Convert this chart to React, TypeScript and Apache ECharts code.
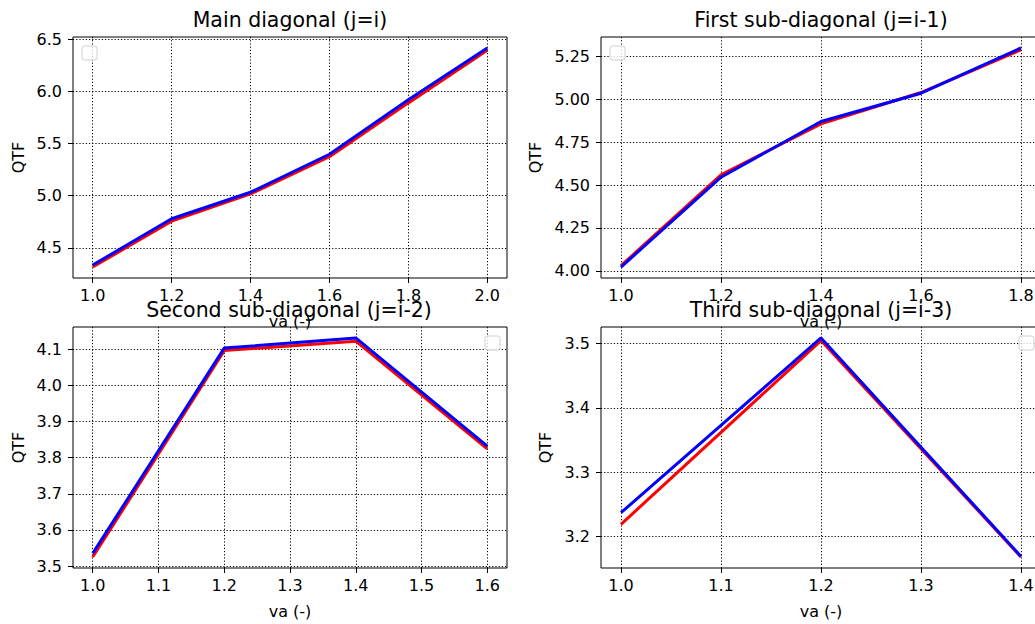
import React, { useEffect, useRef } from "react";
import * as echarts from "echarts";

// ---- data ----
const vaMain = [1.0, 1.2, 1.4, 1.6, 1.8, 2.0];
const mainRed = [4.315, 4.756, 5.017, 5.374, 5.89, 6.395];
const mainBlue = [4.334, 4.778, 5.033, 5.397, 5.92, 6.417];

const vaSub1 = [1.0, 1.2, 1.4, 1.6, 1.8];
const sub1Red = [4.03, 4.56, 4.857, 5.04, 5.289];
const sub1Blue = [4.022, 4.546, 4.871, 5.036, 5.3];

const vaSub2 = [1.0, 1.2, 1.4, 1.6];
const sub2Red = [3.525, 4.096, 4.122, 3.824];
const sub2Blue = [3.535, 4.103, 4.131, 3.832];

const vaSub3 = [1.0, 1.2, 1.4];
const sub3Red = [3.219, 3.505, 3.168];
const sub3Blue = [3.237, 3.509, 3.169];

// tick labels
const xTicksMain = [1.0, 1.2, 1.4, 1.6, 1.8, 2.0];
const yTicksMain = [4.5, 5.0, 5.5, 6.0, 6.5];
const xTicksSub1 = [1.0, 1.2, 1.4, 1.6, 1.8];
const yTicksSub1 = [4.0, 4.25, 4.5, 4.75, 5.0, 5.25];
const xTicksSub2 = [1.0, 1.1, 1.2, 1.3, 1.4, 1.5, 1.6];
const yTicksSub2 = [3.5, 3.6, 3.7, 3.8, 3.9, 4.0, 4.1];
const xTicksSub3 = [1.0, 1.1, 1.2, 1.3, 1.4];
const yTicksSub3 = [3.2, 3.3, 3.4, 3.5];

const titles = [
  "Main diagonal (j=i)",
  "First sub-diagonal (j=i-1)",
  "Second sub-diagonal (j=i-2)",
  "Third sub-diagonal (j=i-3)",
];
const xName = "va (-)";
const yName = "QTF";

const FONT = "DejaVu Sans";
const TICK_FS = 16;
const TITLE_FS = 20.5;

export default function App() {
  const ref = useRef<HTMLDivElement>(null);

  useEffect(() => {
    document.body.style.margin = "0";
    const chart = echarts.init(ref.current!, null, { renderer: "svg" });

    const panels = [
      { x: vaMain, red: mainRed, blue: mainBlue, xt: xTicksMain, yt: yTicksMain, yd: 1,
        grid: { left: 73, top: 37, width: 434, height: 241 }, legendRight: false, yNameX: 18 },
      { x: vaSub1, red: sub1Red, blue: sub1Blue, xt: xTicksSub1, yt: yTicksSub1, yd: 2,
        grid: { left: 601, top: 37, width: 440, height: 241 }, legendRight: false, yNameX: 535 },
      { x: vaSub2, red: sub2Red, blue: sub2Blue, xt: xTicksSub2, yt: yTicksSub2, yd: 1,
        grid: { left: 73, top: 327, width: 434, height: 241 }, legendRight: true, yNameX: 18 },
      { x: vaSub3, red: sub3Red, blue: sub3Blue, xt: xTicksSub3, yt: yTicksSub3, yd: 1,
        grid: { left: 601, top: 327, width: 440, height: 241 }, legendRight: true, yNameX: 545 },
    ];

    const grids: any[] = [];
    const xAxes: any[] = [];
    const yAxes: any[] = [];
    const series: any[] = [];
    const graphics: any[] = [];

    panels.forEach((p, i) => {
      grids.push({
        ...p.grid,
        show: true,
        borderColor: "#000",
        borderWidth: 1,
        backgroundColor: "transparent",
        containLabel: false,
        outerBoundsMode: "none",
      });
      const xmin = Math.min(...p.x), xmax = Math.max(...p.x);
      const xpad = 0.05 * (xmax - xmin);
      const all = [...p.red, ...p.blue];
      const ymin = Math.min(...all), ymax = Math.max(...all);
      const ypad = 0.05 * (ymax - ymin);
      const splitLine = { show: true, lineStyle: { color: "#000", width: 1, type: [1.2, 2] } };
      xAxes.push({
        type: "value",
        gridIndex: i,
        min: xmin - xpad,
        max: xmax + xpad,
        axisLine: { show: false },
        axisTick: { show: true, inside: false, length: 5, customValues: p.xt, lineStyle: { color: "#000" } },
        axisLabel: {
          show: true, customValues: p.xt, margin: 9, color: "#000", fontFamily: FONT, fontSize: TICK_FS,
          formatter: (v: number) => v.toFixed(1), showMinLabel: true, showMaxLabel: true, hideOverlap: false,
        },
        splitLine,
      });
      yAxes.push({
        type: "value",
        gridIndex: i,
        min: ymin - ypad,
        max: ymax + ypad,
        axisLine: { show: false },
        axisTick: { show: true, inside: false, length: 5, customValues: p.yt, lineStyle: { color: "#000" } },
        axisLabel: {
          show: true, customValues: p.yt, margin: 11, color: "#000", fontFamily: FONT, fontSize: TICK_FS,
          formatter: (v: number) => v.toFixed(p.yd), hideOverlap: false,
        },
        splitLine,
      });
      series.push({
        type: "line", xAxisIndex: i, yAxisIndex: i,
        data: p.x.map((x, k) => [x, p.red[k]]),
        showSymbol: false, symbol: "none", clip: false,
        lineStyle: { color: "#ff0000", width: 3 }, z: 3,
      });
      series.push({
        type: "line", xAxisIndex: i, yAxisIndex: i,
        data: p.x.map((x, k) => [x, p.blue[k]]),
        showSymbol: false, symbol: "none", clip: false,
        lineStyle: { color: "#0000ff", width: 3 }, z: 4,
      });

      const g = p.grid;
      const cx = g.left + g.width / 2;
      // axis names
      graphics.push({
        type: "text", x: cx, y: g.top + g.height + 43, z: 10,
        style: { text: xName, font: `${TICK_FS}px '${FONT}'`, fill: "#000", textAlign: "center", textVerticalAlign: "middle" },
      });
      graphics.push({
        type: "text", x: p.yNameX, y: g.top + g.height / 2, rotation: Math.PI / 2, z: 10,
        style: { text: yName, font: `${TICK_FS}px '${FONT}'`, fill: "#000", textAlign: "center", textVerticalAlign: "middle" },
      });
      // empty legend frame
      graphics.push({
        type: "rect", z: 10,
        shape: { x: p.legendRight ? g.left + g.width - 22 : g.left + 9, y: g.top + 9, width: 15, height: 14, r: 2.5 },
        style: { fill: "rgba(255,255,255,0.8)", stroke: "#d0d0d0", lineWidth: 1 },
      });
    });

    // titles (drawn after so they overlap the upper x labels, as in the reference)
    const titlePos = [
      [290, 20], [821, 20], [289, 310], [821, 310],
    ];
    titles.forEach((t, i) => {
      graphics.push({
        type: "text", x: titlePos[i][0], y: titlePos[i][1], z: 20,
        style: { text: t, font: `${TITLE_FS}px '${FONT}'`, fill: "#000", textAlign: "center", textVerticalAlign: "middle" },
      });
    });

    chart.setOption({
      animation: false,
      backgroundColor: "#fff",
      grid: grids,
      xAxis: xAxes,
      yAxis: yAxes,
      series,
      graphic: graphics,
    });

    return () => chart.dispose();
  }, []);

  return (
    <div
      ref={ref}
      style={{ position: "absolute", left: 0, top: 0, width: 1035, height: 624, overflow: "hidden" }}
    />
  );
}
